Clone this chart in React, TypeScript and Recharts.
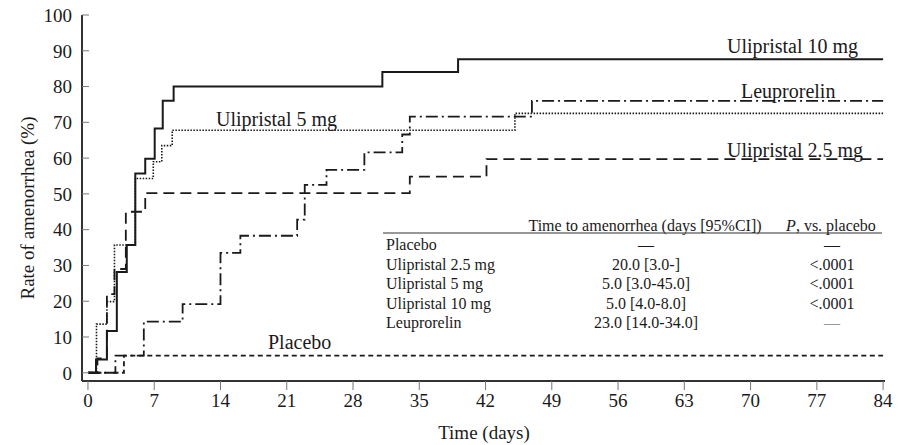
import { LineChart, Line, XAxis, YAxis } from "recharts";

const dayTicks = [0, 7, 14, 21, 28, 35, 42, 49, 56, 63, 70, 77, 84];
const rateTicks = [0, 10, 20, 30, 40, 50, 60, 70, 80, 90, 100];

// Kaplan-Meier steps (day, % amenorrhea)
const placeboDays = [0, 3.8, 84];
const placeboRates = [0, 4.8, 4.8];

const ulip25Days = [0, 1, 2, 2.8, 4, 6.05, 34, 42.1, 84];
const ulip25Rates = [0, 4, 22, 29, 45, 50.2, 54.8, 59.7, 59.7];

const ulip5Days = [0, 0.9, 2.0, 2.8, 5.0, 6.9, 7.8, 8.9, 45.1, 84];
const ulip5Rates = [0, 13.6, 19.9, 35.7, 54.3, 59, 63.5, 67.8, 72.5, 72.5];

const ulip10Days = [0, 0.85, 2.0, 3.05, 4.1, 5.0, 6.05, 7.05, 7.9, 9.05, 31.1, 39.1, 84];
const ulip10Rates = [0, 3.7, 11.7, 28.2, 35.7, 55.7, 59.8, 68.3, 76, 80, 84.1, 87.6, 87.6];

const leuproDays = [0, 2.9, 5.9, 10, 14, 16.1, 22.1, 22.9, 25.2, 29.2, 33.2, 34, 46.9, 84];
const leuproRates = [0, 4.8, 14.3, 19.2, 33.5, 38.3, 42.8, 52.5, 56.7, 61.6, 66.6, 71.6, 76, 76];

// table in the lower right
const tableNames = ["Placebo", "Ulipristal 2.5 mg", "Ulipristal 5 mg", "Ulipristal 10 mg", "Leuprorelin"];
const tableTimes = ["—", "20.0 [3.0-]", "5.0 [3.0-45.0]", "5.0 [4.0-8.0]", "23.0 [14.0-34.0]"];
const tableP = ["—", "<.0001", "<.0001", "<.0001", "—"];

const toPoints = (days: number[], rates: number[]) =>
    days.map((d, i) => ({day: d, rate: rates[i]}));

const serif = '"Liberation Serif", "DejaVu Serif", serif';
const ink = "#1a1a1a";

export default function App() {
    const rowY = [244, 264, 283, 303, 322];

    return (
        <div style={{position: "absolute", left: 0, top: 0, width: 907, height: 445, background: "#fff"}}>
            <LineChart width={907} height={445} margin={{top: 15, right: 22, bottom: 34, left: 0}}>
                <XAxis
                    dataKey="day"
                    type="number"
                    domain={[-0.63, 84.2]}
                    ticks={dayTicks}
                    allowDataOverflow
                    height={30}
                    axisLine={{stroke: "#333", strokeWidth: 2}}
                    tickLine={{stroke: "#777"}}
                    tickSize={9}
                    tickMargin={4}
                    tick={{fontSize: 19, fill: ink, fontFamily: serif}}
                />
                <YAxis
                    type="number"
                    domain={[-2.3, 100]}
                    ticks={rateTicks}
                    allowDataOverflow
                    width={82}
                    axisLine={{stroke: "#333", strokeWidth: 2}}
                    tickLine={{stroke: "#777"}}
                    tickSize={-7}
                    tickMargin={17}
                    tick={{fontSize: 19, fill: ink, fontFamily: serif}}
                />
                <Line data={toPoints(placeboDays, placeboRates)} dataKey="rate" type="stepAfter"
                      stroke={ink} strokeWidth={1.8} strokeDasharray="5 3.5" dot={false}
                      isAnimationActive={false}/>
                <Line data={toPoints(ulip25Days, ulip25Rates)} dataKey="rate" type="stepAfter"
                      stroke={ink} strokeWidth={1.8} strokeDasharray="11 6" dot={false}
                      isAnimationActive={false}/>
                <Line data={toPoints(leuproDays, leuproRates)} dataKey="rate" type="stepAfter"
                      stroke={ink} strokeWidth={1.8} strokeDasharray="12 4 2 4" dot={false}
                      isAnimationActive={false}/>
                <Line data={toPoints(ulip5Days, ulip5Rates)} dataKey="rate" type="stepAfter"
                      stroke={ink} strokeWidth={1.6} strokeDasharray="1.5 1.5" dot={false}
                      isAnimationActive={false}/>
                <Line data={toPoints(ulip10Days, ulip10Rates)} dataKey="rate" type="stepAfter"
                      stroke={ink} strokeWidth={2} dot={false}
                      isAnimationActive={false}/>
            </LineChart>

            <svg width={907} height={445}
                 style={{position: "absolute", left: 0, top: 0, pointerEvents: "none"}}
                 fontFamily={serif} fill={ink}>
                <text x={27} y={208} transform="rotate(-90 27 208)" textAnchor="middle"
                      dominantBaseline="central" fontSize={19}>Rate of amenorrhea (%)</text>
                <text x={484} y={432} textAnchor="middle" dominantBaseline="central" fontSize={19}>
                    Time (days)
                </text>

                <text x={727} y={46} dominantBaseline="central" fontSize={20}>Ulipristal 10 mg</text>
                <text x={741} y={91} dominantBaseline="central" fontSize={20}>Leuprorelin</text>
                <text x={216} y={119} dominantBaseline="central" fontSize={20}>Ulipristal 5 mg</text>
                <text x={727} y={150} dominantBaseline="central" fontSize={20}>Ulipristal 2.5 mg</text>
                <text x={268} y={342} dominantBaseline="central" fontSize={20}>Placebo</text>

                <text x={645} y={225} textAnchor="middle" dominantBaseline="central" fontSize={16}>
                    Time to amenorrhea (days [95%CI])
                </text>
                <text x={831} y={225} textAnchor="middle" dominantBaseline="central" fontSize={16}>
                    <tspan fontStyle="italic">P</tspan>, vs. placebo
                </text>
                <line x1={383} x2={882} y1={233} y2={233} stroke="#333" strokeWidth={1.2}/>
                {tableNames.map((n, i) => (
                    <g key={n}>
                        <text x={386} y={rowY[i]} dominantBaseline="central" fontSize={16}>{n}</text>
                        <text x={646} y={rowY[i]} textAnchor="middle" dominantBaseline="central"
                              fontSize={16}>{tableTimes[i]}</text>
                        <text x={832} y={rowY[i]} textAnchor="middle" dominantBaseline="central"
                              fontSize={16} fill={i === 4 ? "#999" : ink}>{tableP[i]}</text>
                    </g>
                ))}
            </svg>
        </div>
    );
}
